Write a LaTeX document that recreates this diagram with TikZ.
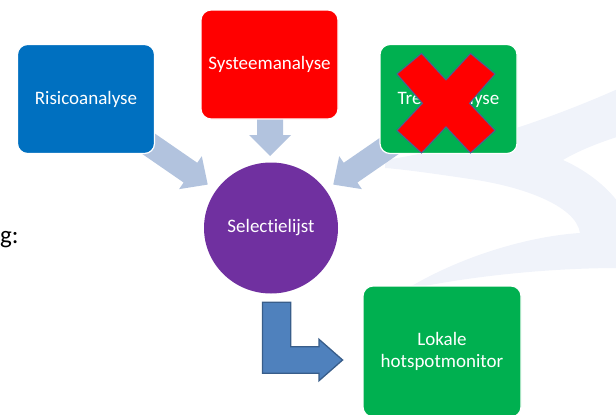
\documentclass[tikz,border=0pt]{standalone}
\usepackage{fontspec}
\setmainfont{Carlito}[Ligatures={NoCommon}]
\usetikzlibrary{shapes.geometric}
\definecolor{riskblue}{RGB}{0,112,192}
\definecolor{sysred}{RGB}{255,0,0}
\definecolor{trendgreen}{RGB}{0,176,80}
\definecolor{selpurple}{RGB}{112,48,160}
\definecolor{arrowgray}{RGB}{178,195,222}
\definecolor{lfill}{RGB}{79,129,189}
\definecolor{ldraw}{RGB}{56,93,138}
\definecolor{xdraw}{RGB}{80,92,150}
\definecolor{swooshc}{RGB}{240,243,250}
\begin{document}
\begin{tikzpicture}[x=1pt,y=-1pt,
  box/.style={rectangle, rounded corners=10pt, draw=white, line width=1.2pt,
    text=white, font=\fontsize{19}{22}\selectfont, minimum width=137pt,
    minimum height=109pt, align=center, inner sep=0pt},
  barrow/.style={fill=arrowgray},
  larrow/.style={fill=lfill, draw=ldraw, line width=1.3pt, line join=miter},
  crossmark/.style={fill=sysred, draw=xdraw, line width=1pt, line join=miter},
]
\useasboundingbox (0,0) rectangle (616,415);
% faint background swoosh
\begin{scope}
\clip (0,0) rectangle (616,415);
\fill[swooshc] (385,160) .. controls (450,150) and (530,128) .. (620,88)
  -- (620,136) .. controls (598,143) and (578,151) .. (563,160)
  .. controls (590,172) and (610,190) .. (620,205)
  -- (620,268) .. controls (540,268) and (460,278) .. (405,290)
  .. controls (460,256) and (530,236) .. (580,233)
  .. controls (576,205) and (520,186) .. (470,179)
  .. controls (430,173) and (400,169) .. (385,168) -- cycle;
\end{scope}
% block arrows into the list
\coordinate (t1) at (146,142);
\coordinate (t2) at (270,117);
\coordinate (t3) at (395,142);
\fill[barrow, shift={(t1)}, rotate=-34.6] (0,-12) -- (54,-12) -- (54,-20) -- (75,0) -- (54,20) -- (54,12) -- (0,12) -- cycle;
\fill[barrow, shift={(t2)}, rotate=-90] (0,-13) -- (18,-13) -- (18,-21) -- (39,0) -- (18,21) -- (18,13) -- (0,13) -- cycle;
\fill[barrow, shift={(t3)}, rotate=-145.4] (0,-12) -- (54,-12) -- (54,-20) -- (75,0) -- (54,20) -- (54,12) -- (0,12) -- cycle;
% boxes
\node[box, fill=riskblue] (risico) at (86,99) {Risicoanalyse};
\node[box, fill=sysred] (systeem) at (269.5,64.5) {Systeemanalyse};
\node[box, fill=trendgreen] (trend) at (448.5,99) {Trendanalyse};
\node[ellipse, fill=selpurple, text=white, font=\fontsize{19}{22}\selectfont,
  minimum width=134pt, minimum height=131pt, inner sep=0pt] (sel) at (271,228) {Selectielijst};
\node[box, fill=trendgreen, minimum width=158pt, minimum height=131pt] (lokale) at (442,351.5) {Lokale\\hotspotmonitor};
% red cross over Trendanalyse
\draw[crossmark] (421.5,53.5) -- (446,80) -- (470.5,53.5) -- (495,74) -- (469.5,103.3)
  -- (495,130.5) -- (470.5,153) -- (446,126.8) -- (421.5,153) -- (397,130.5)
  -- (422.5,103.3) -- (397,74) -- cycle;
% L-shaped arrow
\draw[larrow] (262.5,302.3) -- (290.8,302.3) -- (290.8,346.7) -- (319,346.7)
  -- (319,339.3) -- (342.6,360) -- (319,380.7) -- (319,373.3) -- (262.5,373.3) -- cycle;
% text at left edge
\node[anchor=base west, inner sep=0pt, font=\fontsize{25}{30}\selectfont] (gtext) at (0,243) {g:};
\end{tikzpicture}
\end{document}
